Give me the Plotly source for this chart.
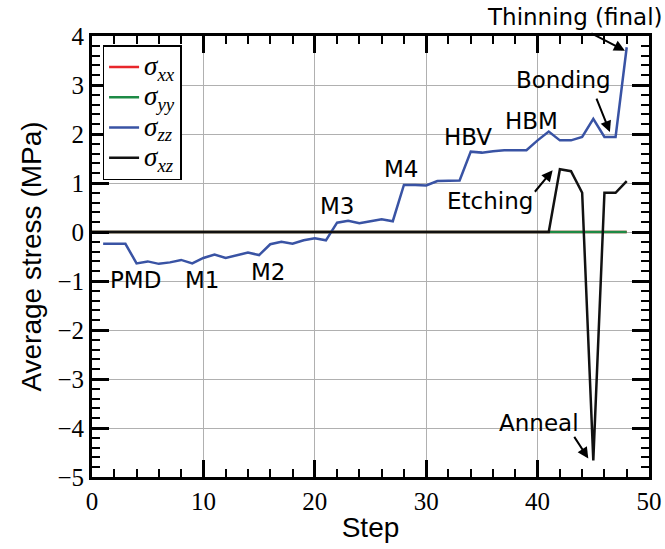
import plotly.graph_objects as go

steps_all = list(range(0, 49))
steps_zz = list(range(1, 49))

sigma_zz = [-0.24, -0.24, -0.24, -0.64, -0.60, -0.65, -0.62, -0.57, -0.64, -0.53,
            -0.46, -0.53, -0.47, -0.42, -0.47, -0.25, -0.20, -0.24, -0.17, -0.13,
            -0.17, 0.19, 0.23, 0.18, 0.22, 0.26, 0.22, 0.96, 0.96, 0.95,
            1.04, 1.04, 1.05, 1.64, 1.62, 1.65, 1.67, 1.67, 1.67, 1.87,
            2.05, 1.87, 1.87, 1.94, 2.31, 1.94, 1.94, 3.77]
sigma_xx = [0.0] * 49
sigma_yy = [0.0] * 49
sigma_xz = [0.0] * 42 + [1.28, 1.24, 0.80, -4.66, 0.80, 0.80, 1.04]

series_names = ["xx", "yy", "zz", "xz"]

labels = [
    ("PMD", 3.91, -0.98), ("M1", 9.88, -0.98), ("M2", 15.77, -0.82),
    ("M3", 21.97, 0.54), ("M4", 27.72, 1.29), ("HBV", 33.74, 1.94),
    ("HBM", 39.49, 2.26), ("Etching", 35.71, 0.63), ("Bonding", 42.36, 3.11),
    ("Anneal", 40.12, -3.89),
]
arrows = [  # (tip x, tip y, tail offset px x, tail offset px y)
    (47.84, 3.70, -35, -18),
    (46.49, 2.04, -14, -35),
    (41.35, 1.26, -19, 23),
    (44.55, -4.62, -15, -23),
]


def leg(sub):
    return ('<span style="font-size:27px"><i>σ</i><sub><i>' + sub + '</i></sub></span>')


fig = go.Figure()
fig.add_trace(go.Scatter(x=steps_all, y=sigma_xx, mode="lines", name=leg(series_names[0]),
                         line=dict(color="#e8262b", width=2.5)))
fig.add_trace(go.Scatter(x=steps_all, y=sigma_yy, mode="lines", name=leg(series_names[1]),
                         line=dict(color="#1d8a45", width=2.5)))
fig.add_trace(go.Scatter(x=steps_zz, y=sigma_zz, mode="lines", name=leg(series_names[2]),
                         line=dict(color="#3953a4", width=2.5)))
fig.add_trace(go.Scatter(x=steps_all, y=sigma_xz, mode="lines", name=leg(series_names[3]),
                         line=dict(color="#111111", width=2.5)))

for txt, x, y in labels:
    fig.add_annotation(x=x, y=y, text=txt, showarrow=False,
                       font=dict(family="DejaVu Sans", size=23, color="black"))
fig.add_annotation(x=43.4, xref="x", y=1.044, yref="paper", yanchor="middle",
                   xanchor="center", text="Thinning (final)",
                   showarrow=False, font=dict(family="DejaVu Sans", size=23, color="black"))
for hx, hy, ox, oy in arrows:
    fig.add_annotation(x=hx, y=hy, ax=ox, ay=oy, axref="pixel", ayref="pixel", text="",
                       showarrow=True, arrowhead=2, arrowsize=1.1, arrowwidth=2,
                       arrowcolor="black")

axis_common = dict(showline=True, linewidth=3, linecolor="black", mirror="allticks",
                   ticks="inside", tickwidth=2.5, ticklen=17, tickcolor="black",
                   showgrid=True, gridcolor="#b0b0b0", gridwidth=1.3, zeroline=False,
                   automargin=False,
                   tickfont=dict(family="Liberation Serif", size=25, color="black"))

fig.update_xaxes(range=[0, 50], dtick=10, tick0=0,
                 minor=dict(dtick=2, ticks="inside", ticklen=8, tickwidth=1.8,
                            tickcolor="black", showgrid=False),
                 title=dict(text="Step", standoff=4,
                            font=dict(family="Liberation Sans", size=28, color="black")),
                 **axis_common)
fig.update_yaxes(range=[-5, 4], dtick=1, tick0=0,
                 minor=dict(dtick=0.2, ticks="inside", ticklen=8, tickwidth=1.8,
                            tickcolor="black", showgrid=False),
                 title=dict(text="Average stress (MPa)", standoff=8,
                            font=dict(family="Liberation Sans", size=28, color="black")),
                 **axis_common)

fig.update_layout(
    width=665, height=549,
    margin=dict(l=92, r=16, t=36, b=72),
    paper_bgcolor="white", plot_bgcolor="white",
    showlegend=True,
    legend=dict(x=0.019, y=0.979, xanchor="left", yanchor="top",
                bgcolor="white", bordercolor="black", borderwidth=1.5,
                font=dict(family="Liberation Serif", size=21, color="black"),
                tracegroupgap=0, itemwidth=30),
)

fig.write_html("out.html", config={"displayModeBar": False},
               post_script="document.body.style.margin='0px';")
